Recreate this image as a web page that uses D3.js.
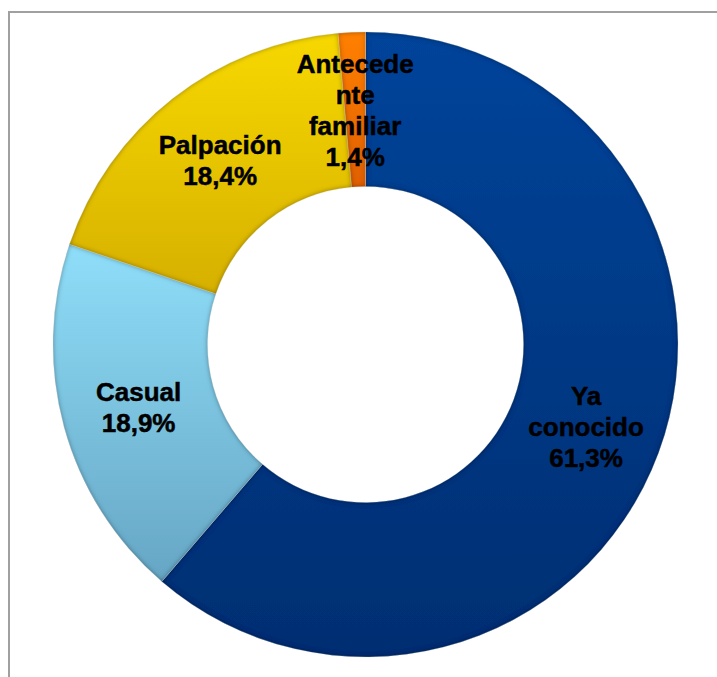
<!DOCTYPE html>
<html>
<head>
<meta charset="utf-8">
<script src="https://cdn.jsdelivr.net/npm/d3@7"></script>
<style>
  html, body { margin: 0; padding: 0; background: #fff; }
  svg { display: block; }
</style>
</head>
<body>
<script>
// Forma de detección
const categories = ["Ya conocido", "Casual", "Palpación", "Antecedente familiar"];
const values = [61.3, 18.9, 18.4, 1.4];
const labelLines = [["Ya", "conocido"], ["Casual"], ["Palpación"], ["Antecede", "nte", "familiar"]];
const colorTop = ["#00449a", "#8fdef9", "#f7d800", "#ff8000"];
const colorBottom = ["#002e72", "#66a6c4", "#d6b000", "#e06000"];

const W = 717, H = 677;
const cx = 365.5, cy = 344.5, rOuter = 312.5, rInner = 158;

const svg = d3.select("body").append("svg").attr("width", W).attr("height", H);
const defs = svg.append("defs");

// vertical gradient per slice
categories.forEach((c, i) => {
  const g = defs.append("linearGradient").attr("id", "grad" + i)
    .attr("x1", 0).attr("y1", 0).attr("x2", 0).attr("y2", 1);
  g.append("stop").attr("offset", "0%").attr("stop-color", colorTop[i]);
  g.append("stop").attr("offset", "100%").attr("stop-color", colorBottom[i]);
});

// soft inner bevel on each slice
const f = defs.append("filter").attr("id", "inner")
  .attr("x", "-5%").attr("y", "-5%").attr("width", "110%").attr("height", "110%");
f.append("feComponentTransfer").attr("in", "SourceAlpha").attr("result", "inv")
  .append("feFuncA").attr("type", "table").attr("tableValues", "1 0");
f.append("feGaussianBlur").attr("in", "inv").attr("stdDeviation", 2.5).attr("result", "blur");
f.append("feFlood").attr("flood-color", "#000").attr("flood-opacity", 0.8).attr("result", "col");
f.append("feComposite").attr("in", "col").attr("in2", "blur").attr("operator", "in").attr("result", "sh");
f.append("feComposite").attr("in", "sh").attr("in2", "SourceAlpha").attr("operator", "in").attr("result", "shIn");
const m = f.append("feMerge");
m.append("feMergeNode").attr("in", "SourceGraphic");
m.append("feMergeNode").attr("in", "shIn");

// frame
svg.append("rect").attr("x", 9).attr("y", 12).attr("width", 800).attr("height", 800)
  .attr("fill", "none").attr("stroke", "#a0a0a0").attr("stroke-width", 2);

const data = categories.map((c, i) => ({ name: c, value: values[i], lines: labelLines[i], i }));
const pie = d3.pie().value(d => d.value).sort(null);
const arc = d3.arc().innerRadius(rInner).outerRadius(rOuter);
const arcs = pie(data);

const g = svg.append("g").attr("transform", `translate(${cx},${cy})`);

g.selectAll("path.slice").data(arcs).join("path")
  .attr("class", "slice")
  .attr("d", arc)
  .attr("fill", d => `url(#grad${d.data.i})`)
  .attr("stroke", "rgba(255,255,255,0.35)")
  .attr("stroke-width", 0.8)
  .attr("filter", "url(#inner)");

const fmt = v => d3.format(".1f")(v).replace(".", ",") + "%";
const lineH = 31;

arcs.forEach(a => {
  const [x, y] = arc.centroid(a);
  const lines = a.data.lines.concat([fmt(a.data.value)]);
  const n = lines.length;
  const t = g.append("text")
    .attr("text-anchor", "middle")
    .attr("font-family", "'Liberation Sans', Arial, sans-serif")
    .attr("font-weight", "bold")
    .attr("font-size", 26)
    .attr("fill", "#000")
    .attr("stroke", "#000")
    .attr("stroke-width", 0.5);
  lines.forEach((ln, k) => {
    t.append("tspan")
      .attr("x", x)
      .attr("y", y + (k - (n - 1) / 2) * lineH + 10)
      .text(ln);
  });
});
</script>
</body>
</html>
